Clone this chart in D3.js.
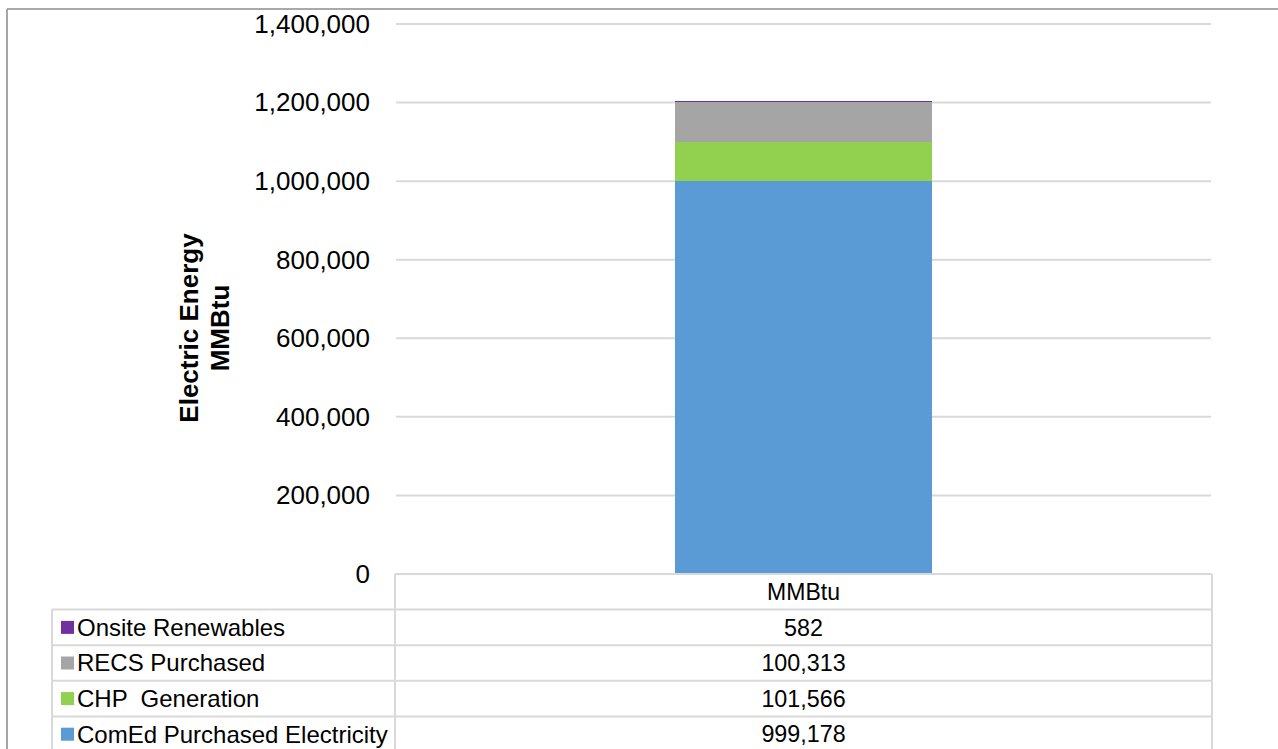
<!DOCTYPE html>
<html>
<head>
<meta charset="utf-8">
<script src="https://cdn.jsdelivr.net/npm/d3@7"></script>
<style>
  html, body { margin: 0; padding: 0; background: #fff; }
  svg { display: block; font-family: Arial, "Liberation Sans", sans-serif; }
  text { white-space: pre; }
</style>
</head>
<body>
<svg id="chart" width="1278" height="749"></svg>
<script>
// Electric energy sources, in MMBtu
const categories = ["MMBtu"];
const seriesNames = ["ComEd Purchased Electricity", "CHP  Generation", "RECS Purchased", "Onsite Renewables"];
const seriesValues = [999178, 101566, 100313, 582];
const seriesColors = ["#5B9BD5", "#92D050", "#A5A5A5", "#7030A0"];
const yTicks = [0, 200000, 400000, 600000, 800000, 1000000, 1200000, 1400000];

const svg = d3.select("#chart");
const fmt = d3.format(",");

const plot = { left: 396, right: 1211, top: 24, bottom: 574 };

const x = d3.scaleBand()
  .domain(categories)
  .range([plot.left, plot.right])
  .paddingInner(0.52)
  .paddingOuter(0.52);

const y = d3.scaleLinear()
  .domain([0, 1400000])
  .range([plot.bottom, plot.top]);

// chart frame
svg.append("line").attr("x1", 7).attr("x2", 1278).attr("y1", 9).attr("y2", 9)
  .attr("stroke", "#8c8c8c").attr("stroke-width", 1.5);
svg.append("line").attr("x1", 7).attr("x2", 7).attr("y1", 9).attr("y2", 749)
  .attr("stroke", "#a6a6a6").attr("stroke-width", 2);

// gridlines
svg.append("g")
  .selectAll("line")
  .data(yTicks.filter(d => d > 0))
  .join("line")
  .attr("x1", plot.left).attr("x2", plot.right)
  .attr("y1", d => y(d)).attr("y2", d => y(d))
  .attr("stroke", "#d9d9d9").attr("stroke-width", 2);

// y axis labels
const yAxis = d3.axisLeft(y).tickValues(yTicks).tickFormat(fmt).tickSize(0).tickPadding(0);
const yg = svg.append("g").attr("transform", "translate(370,0)").call(yAxis);
yg.select(".domain").remove();
yg.selectAll("text")
  .attr("font-size", 26)
  .attr("fill", "#000")
  .attr("font-family", "Arial, 'Liberation Sans', sans-serif");

// axis title
svg.append("text")
  .attr("transform", "translate(198,328) rotate(-90)")
  .attr("text-anchor", "middle")
  .attr("font-size", 26).attr("font-weight", "bold")
  .text("Electric Energy");
svg.append("text")
  .attr("transform", "translate(229,328) rotate(-90)")
  .attr("text-anchor", "middle")
  .attr("font-size", 26).attr("font-weight", "bold")
  .text("MMBtu");

// stacked bar (segments kept at least one pixel tall so thin ones stay visible)
const row = { cat: categories[0] };
seriesNames.forEach((n, i) => row[n] = seriesValues[i]);
const stacked = d3.stack().keys(seriesNames)([row]);

svg.append("g")
  .attr("shape-rendering", "crispEdges")
  .selectAll("rect")
  .data(stacked)
  .join("rect")
  .attr("x", d => x(d[0].data.cat))
  .attr("width", x.bandwidth())
  .attr("y", d => Math.min(y(d[0][1]), y(d[0][0]) - 1))
  .attr("height", d => Math.max(1, y(d[0][0]) - y(d[0][1])))
  .attr("fill", (d, i) => seriesColors[i]);

// data table
const rowH = 35.6;
const tableTop = y(0);
const labelLeft = 52;
const colSplit = plot.left - 1;
const tableRight = plot.right + 1;
const tableRows = seriesNames.map((n, i) => ({ name: n, value: seriesValues[i], color: seriesColors[i] })).reverse();
const grid = svg.append("g").attr("stroke", "#d9d9d9").attr("stroke-width", 2);

// header cell
grid.append("line").attr("x1", colSplit).attr("x2", tableRight).attr("y1", tableTop).attr("y2", tableTop);
// row separators
d3.range(tableRows.length + 1).forEach(k => {
  const yy = tableTop + rowH * (k + 1);
  grid.append("line").attr("x1", labelLeft).attr("x2", tableRight).attr("y1", yy).attr("y2", yy);
});
const tableBottom = tableTop + rowH * (tableRows.length + 1);
grid.append("line").attr("x1", labelLeft).attr("x2", labelLeft).attr("y1", tableTop + rowH).attr("y2", tableBottom);
grid.append("line").attr("x1", colSplit).attr("x2", colSplit).attr("y1", tableTop).attr("y2", tableBottom);
grid.append("line").attr("x1", tableRight).attr("x2", tableRight).attr("y1", tableTop).attr("y2", tableBottom);

const cx = x(categories[0]) + x.bandwidth() / 2;
svg.append("text")
  .attr("x", cx).attr("y", tableTop + rowH / 2)
  .attr("dy", "0.35em").attr("text-anchor", "middle")
  .attr("font-size", 23)
  .text(categories[0]);

const rows = svg.append("g")
  .selectAll("g")
  .data(tableRows)
  .join("g")
  .attr("transform", (d, i) => `translate(0,${tableTop + rowH * (i + 1) + rowH / 2})`);

rows.append("rect")
  .attr("x", 61).attr("y", -6.5)
  .attr("width", 13).attr("height", 13)
  .attr("fill", d => d.color);

rows.append("text")
  .attr("x", 77).attr("dy", "0.35em")
  .attr("font-size", 24)
  .text(d => d.name);

rows.append("text")
  .attr("x", cx).attr("dy", "0.35em")
  .attr("text-anchor", "middle")
  .attr("font-size", 23.3)
  .text(d => fmt(d.value));
</script>
</body>
</html>
